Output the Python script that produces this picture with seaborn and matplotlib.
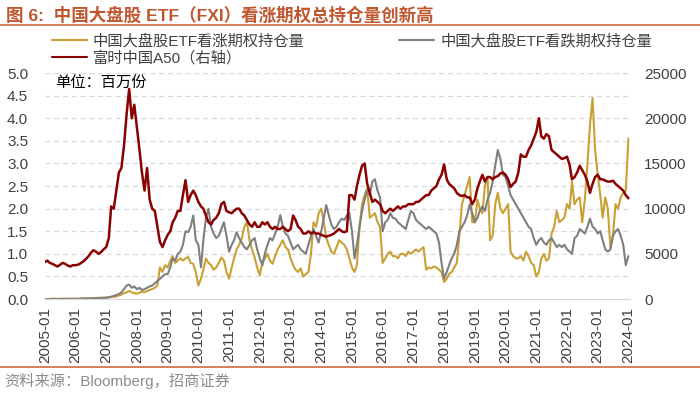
import seaborn as sns
import matplotlib.pyplot as plt
import matplotlib.dates as mdates
from matplotlib.lines import Line2D
import numpy as np
import pandas as pd

sns.set_style("white")
plt.rcParams['font.family'] = ['Liberation Sans', 'Noto Sans CJK SC']
plt.rcParams['axes.unicode_minus'] = False

# monthly readings, 2005-01 .. 2024-01
months = pd.date_range("2005-01-01", "2024-01-01", freq="MS")

# FXI call open interest (million contracts)
call_oi = [
    0.00, 0.00, 0.00, 0.01, 0.01, 0.00, 0.01, 0.01, 0.01, 0.01, 0.01, 0.01,
    0.01, 0.01, 0.01, 0.01, 0.02, 0.02, 0.02, 0.02, 0.02, 0.03, 0.03, 0.03,
    0.03, 0.04, 0.05, 0.05, 0.06, 0.08, 0.10, 0.13, 0.15, 0.18, 0.15, 0.13,
    0.12, 0.14, 0.16, 0.15, 0.18, 0.20, 0.22, 0.25, 0.30, 0.70, 0.60, 0.75,
    0.70, 0.85, 0.95, 0.80, 0.85, 0.90, 0.85, 0.90, 0.93, 0.80, 0.78, 0.60,
    0.30, 0.45, 0.65, 0.90, 0.80, 0.75, 0.65, 0.70, 0.80, 0.92, 0.85, 0.60,
    0.45, 0.70, 0.90, 1.10, 1.20, 1.35, 1.60, 1.70, 1.30, 1.10, 0.92, 0.70,
    0.53, 0.80, 0.90, 1.00, 0.85, 0.78, 0.95, 1.10, 1.20, 1.30, 1.15, 1.10,
    0.90, 0.75, 0.65, 0.60, 0.68, 0.50, 0.55, 0.60, 1.00, 1.70, 1.60, 1.90,
    2.00, 1.70, 1.35, 1.20, 1.05, 1.00, 1.15, 1.30, 1.25, 1.20, 1.10, 0.90,
    0.70, 0.60, 0.75, 1.60, 2.10, 2.30, 2.45, 1.80, 1.85, 1.90, 1.70, 1.60,
    0.80, 0.90, 1.00, 1.05, 0.95, 0.95, 0.90, 1.00, 1.00, 0.95, 1.05, 1.00,
    1.05, 1.10, 1.05, 1.10, 1.15, 0.65, 0.70, 0.68, 0.72, 0.70, 0.65, 0.60,
    0.38, 0.45, 0.55, 0.60, 0.70, 0.80, 1.40, 2.10, 2.30, 2.50, 2.70, 1.70,
    1.70, 2.20, 2.00, 1.90, 2.50, 2.70, 1.30, 1.40, 2.10, 2.35, 2.00, 1.90,
    2.00, 2.10, 1.05, 0.95, 0.90, 0.90, 0.95, 0.85, 1.05, 0.95, 0.80, 0.75,
    0.50, 0.60, 0.90, 1.00, 0.85, 0.90, 1.45, 1.60, 1.95, 1.70, 1.75, 1.80,
    2.10, 2.00, 2.60, 2.10, 2.20, 2.25, 1.70, 2.20, 3.00, 3.85, 4.45, 3.30,
    2.75, 2.30, 1.80, 2.25, 2.00, 1.15, 1.40, 2.10, 2.00, 2.25, 2.35, 2.40,
    3.55,
]

# FXI put open interest (million contracts)
put_oi = [
    0.00, 0.00, 0.00, 0.00, 0.00, 0.00, 0.00, 0.00, 0.00, 0.00, 0.00, 0.00,
    0.00, 0.00, 0.01, 0.01, 0.01, 0.01, 0.01, 0.02, 0.02, 0.02, 0.02, 0.03,
    0.03, 0.04, 0.05, 0.07, 0.09, 0.11, 0.15, 0.22, 0.30, 0.32, 0.25, 0.28,
    0.22, 0.25, 0.20, 0.22, 0.25, 0.28, 0.30, 0.35, 0.40, 0.45, 0.50, 0.55,
    0.55, 0.70, 0.90, 0.85, 1.00, 1.05, 1.20, 1.50, 1.48, 1.60, 1.85, 1.30,
    1.20, 0.70, 1.30, 1.80, 2.00, 1.60, 1.45, 1.35, 1.40, 1.55, 1.70, 1.40,
    1.05, 1.20, 1.30, 1.48, 1.35, 1.25, 1.15, 1.10, 1.20, 1.30, 1.35, 1.10,
    0.90, 0.75, 1.00, 1.20, 1.35, 1.30, 1.45, 1.60, 1.86, 1.60, 1.45, 1.40,
    1.25, 1.10, 1.15, 1.20, 1.10, 1.05, 1.00, 1.20, 1.40, 1.55, 1.40, 1.25,
    1.50, 1.80, 2.08, 1.85, 1.65, 1.55, 1.60, 1.70, 1.78, 1.75, 1.85, 1.90,
    1.50, 0.90, 1.20, 1.60, 1.95, 2.20, 2.40, 2.30, 2.60, 2.65, 2.40, 2.25,
    1.50, 1.70, 1.75, 1.90, 1.80, 1.78, 1.70, 1.65, 1.60, 1.55, 1.75, 1.95,
    1.90, 1.75, 1.70, 1.65, 1.60, 1.55, 1.60, 1.55, 1.50, 1.45, 1.25, 0.80,
    0.45, 0.60, 0.75, 0.90, 1.00, 1.20, 1.50, 1.60, 1.70, 1.85, 2.10, 1.90,
    1.70, 1.80, 1.95, 2.05, 1.95, 2.20, 2.35, 2.60, 2.95, 3.30, 3.10, 2.75,
    2.70, 2.50, 2.30, 2.20, 2.10, 2.00, 1.90, 1.80, 1.70, 1.60, 1.55, 1.35,
    1.20, 1.30, 1.35, 1.25, 1.20, 1.30, 1.35, 1.25, 1.15, 1.20, 1.15, 1.20,
    1.10, 1.05, 1.00, 1.35, 1.40, 1.55, 1.50, 1.45, 1.60, 1.78, 1.60, 1.55,
    1.45, 1.50, 1.30, 1.10, 1.05, 1.10, 1.40, 1.50, 1.55, 1.40, 1.20, 0.75,
    0.95,
]

# FTSE China A50 index (right axis)
a50 = [
    4100, 4250, 4000, 3900, 3750, 3600, 3800, 4000, 3900, 3700, 3600, 3750,
    3750, 3800, 3950, 4150, 4400, 4700, 5100, 5400, 5250, 5000, 5200, 5500,
    5750, 6750, 10250, 10000, 12000, 14000, 14500, 17000, 20500, 23250, 20000, 21500,
    19000, 16500, 14000, 12000, 14500, 11000, 10000, 9750, 8000, 6300, 5750, 6500,
    7100, 7500, 8500, 9000, 9750, 9750, 11500, 13150, 10750, 11500, 12000, 11500,
    10750, 10250, 10000, 9250, 8500, 8250, 8750, 9000, 9500, 10500, 10750, 9750,
    9600, 9500, 9750, 10000, 10000, 9500, 9250, 8750, 8250, 8000, 8500, 8000,
    8000, 8500, 8250, 8500, 8000, 7750, 8000, 7750, 7750, 8000, 7750, 7500,
    7750, 9250, 8750, 8000, 7750, 7250, 7250, 7500, 7250, 7400, 7250, 7250,
    7100, 7000, 6900, 7000, 7100, 7250, 7500, 7750, 7500, 7400, 7500, 11500,
    11500, 11000, 12500, 13750, 14750, 15000, 12750, 11750, 10750, 11000, 10750, 10500,
    9750, 9500, 9750, 10000, 9750, 10000, 10250, 10000, 10250, 10250, 10500, 10500,
    10500, 10750, 10750, 11000, 11250, 11500, 11500, 12000, 12250, 12500, 13250, 13750,
    14900, 13250, 12750, 12500, 12250, 11750, 11500, 11400, 11500, 11250, 11250, 10500,
    11000, 12250, 13000, 13750, 13000, 13500, 13500, 13250, 13500, 13600, 13900, 14000,
    13750, 13250, 12400, 12750, 13000, 14000, 16000, 15750, 15750, 16500, 17000, 17750,
    18500, 20000, 18000, 17750, 18250, 18000, 16500, 16250, 16000, 15750, 15500, 15600,
    15750, 14850, 13250, 13500, 14000, 14750, 14250, 13750, 13000, 11750, 12750, 13500,
    13750, 13250, 13250, 13100, 13000, 13000, 13100, 12750, 12500, 12250, 12000, 11500,
    11150,
]

labels = ["中国大盘股ETF看涨期权持仓量", "中国大盘股ETF看跌期权持仓量", "富时中国A50（右轴）"]
colors = ["#C9A033", "#7F7F7F", "#8B0000"]

df = pd.DataFrame({"date": months, "call": call_oi, "put": put_oi, "a50": a50})

fig = plt.figure(figsize=(7, 3.93), dpi=100)
ax = fig.add_axes([0.064, 0.239, 0.836, 0.575])
ax2 = ax.twinx()

sns.lineplot(data=df, x="date", y="call", ax=ax, color=colors[0], linewidth=1.5)
sns.lineplot(data=df, x="date", y="put", ax=ax, color=colors[1], linewidth=1.5)
sns.lineplot(data=df, x="date", y="a50", ax=ax2, color=colors[2], linewidth=1.8)

ax.set_ylim(0, 5)
ax2.set_ylim(0, 25000)
ax.set_xlim(pd.Timestamp("2005-01-01"), pd.Timestamp("2024-01-20"))
ax.set_yticks(np.arange(0, 5.01, 0.5))
ax.set_yticklabels([f"{v:.1f}" for v in np.arange(0, 5.01, 0.5)])
ax2.set_yticks(np.arange(0, 25001, 5000))
years = pd.date_range("2005-01-01", "2024-01-01", freq="YS")
ax.set_xticks(years)
ax.xaxis.set_major_formatter(mdates.DateFormatter("%Y-%m"))
for a in (ax, ax2):
    a.set_xlabel("")
    a.set_ylabel("")
    for s in a.spines.values():
        s.set_visible(False)
ax.spines["bottom"].set_visible(True)
ax.spines["bottom"].set_color("#D9D9D9")
ax.yaxis.grid(True, linestyle=(0, (4, 3)), color="#D9D9D9", linewidth=0.9)
ax.xaxis.grid(False)
ax.tick_params(axis="x", length=4, color="#D9D9D9", labelsize=11,
               labelcolor="#404040", rotation=90, pad=2)
ax.tick_params(axis="y", length=0, labelsize=11, labelcolor="#404040", pad=12)
ax2.tick_params(axis="y", length=0, labelsize=11, labelcolor="#404040", pad=10)

ax.text(0.018, 0.985, "单位：百万份", transform=ax.transAxes, fontsize=11,
        color="black", va="top", ha="left")

handles = [Line2D([], [], color=colors[0], lw=1.5),
           Line2D([], [], color=colors[2], lw=1.5),
           Line2D([], [], color=colors[1], lw=1.5)]
fig.legend(handles, [labels[0], labels[2], labels[1]], ncol=2, loc="upper left",
           bbox_to_anchor=(0.065, 0.93), frameon=False, fontsize=11,
           handlelength=2.3, handletextpad=0.4, columnspacing=6.2,
           labelspacing=0.15, labelcolor="#404040", borderaxespad=0)

fig.text(0.008, 0.962, "图 6:  中国大盘股 ETF（FXI）看涨期权总持仓量创新高",
         fontsize=12.6, fontweight="bold", color="#C0562E", va="center", ha="left")
fig.add_artist(Line2D([0, 1], [0.936, 0.936], transform=fig.transFigure,
                      color="#D0693F", linewidth=1.2))
fig.add_artist(Line2D([0, 1], [0.066, 0.066], transform=fig.transFigure,
                      color="#D0693F", linewidth=1.2))
fig.text(0.006, 0.031, "资料来源：Bloomberg，招商证券", fontsize=11,
         color="#8C8C8C", va="center", ha="left")

fig.savefig("out.png", dpi=100)
